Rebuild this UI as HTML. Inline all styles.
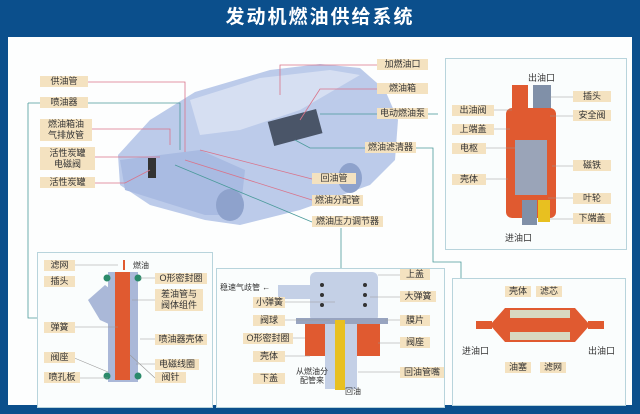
<!DOCTYPE html>
<html><head><meta charset="utf-8"><style>
*{margin:0;padding:0;box-sizing:border-box}
body{width:640px;height:414px;overflow:hidden;background:#0b4f8c;font-family:"Liberation Sans","Noto Sans CJK SC",sans-serif;position:relative}
.title{position:absolute;left:0;top:0;width:640px;height:36px;color:#fff;font-size:19px;font-weight:bold;text-align:center;line-height:36px;letter-spacing:2px}
.main{position:absolute;left:8px;top:37px;width:624px;height:368px;background:#fdfefe}
.p{position:absolute;border:1.5px solid #b8d4dc;background:#fafdfd}
.l{position:absolute;background:#f4e2c0;color:#333;font-size:9px;line-height:11px;padding:0 3px;white-space:nowrap;text-align:center}
.t{position:absolute;color:#333;font-size:8px;white-space:nowrap}
svg{position:absolute;left:0;top:0}
</style></head><body>
<div class="title">发动机燃油供给系统</div>
<div class="main"></div>
<div class="p" style="left:445px;top:58px;width:182px;height:192px"></div>
<div class="p" style="left:37px;top:252px;width:176px;height:156px"></div>
<div class="p" style="left:216px;top:268px;width:229px;height:140px"></div>
<div class="p" style="left:452px;top:278px;width:174px;height:128px"></div>
<svg width="640" height="414">
<!-- car -->
<polygon points="118,155 150,120 195,92 270,70 320,64 360,68 385,90 398,120 395,160 370,185 300,210 240,225 205,220 150,205 120,185" fill="#bccbea"/>
<polygon points="190,100 260,78 330,70 360,75 300,110 240,130 200,135" fill="#d6dff2"/>
<polygon points="120,160 200,150 245,170 240,215 205,215 125,190" fill="#a9bbe2"/>
<ellipse cx="230" cy="205" rx="14" ry="16" fill="#8ea2cc"/>
<ellipse cx="350" cy="178" rx="12" ry="15" fill="#8ea2cc"/>
<rect x="270" y="115" width="50" height="25" fill="#4a5568" transform="rotate(-15 295 127)"/>
<rect x="148" y="158" width="8" height="20" fill="#333"/>
<g fill="none" stroke-width="0.8">
<path d="M88,82 H185 V152" stroke="#d9738a"/>
<path d="M88,103 H180 V150" stroke="#4a9a9a"/>
<path d="M92,129 H170 V145" stroke="#d9738a"/>
<path d="M95,157 H160" stroke="#d9738a"/>
<path d="M95,183 H125 L150,170" stroke="#d9738a"/>
<path d="M377,65 H280 V95" stroke="#d9738a"/>
<path d="M377,89 H320 L300,120" stroke="#d9738a"/>
<path d="M377,114 H320" stroke="#4a9a9a"/>
<path d="M365,148 H310 L295,140" stroke="#4a9a9a"/>
<path d="M312,179 L200,150" stroke="#d9738a"/>
<path d="M312,200 L185,160" stroke="#d9738a"/>
<path d="M312,222 L175,165" stroke="#4a9a9a"/>
<path d="M28,103 H40 M28,103 V318 H37" stroke="#4a9a9a"/>
<path d="M428,114 H438" stroke="#4a9a9a"/>
<path d="M416,148 H433 V262 H461 V278" stroke="#4a9a9a"/>
<path d="M341,228 V268" stroke="#4a9a9a"/>
</g>
<!-- pump -->
<rect x="512" y="85" width="16" height="25" fill="#e05a30"/>
<rect x="533" y="85" width="18" height="25" fill="#8090a8"/>
<rect x="506" y="108" width="50" height="110" rx="6" fill="#e05a30"/>
<rect x="515" y="140" width="32" height="55" fill="#9aa4b8"/>
<rect x="522" y="200" width="15" height="25" fill="#8090a8"/>
<rect x="538" y="200" width="12" height="22" fill="#e8c020"/>
<g stroke="#999" stroke-width="0.6"><path d="M494,110 H512 M494,129 H510 M486,148 H515 M486,179 H508 M573,97 H550 M573,116 H550 M573,166 H552 M573,198 H548 M573,219 H550"/></g>
<!-- injector -->
<polygon points="88,300 105,285 125,300 122,330 100,320" fill="#aab8d8"/>
<rect x="108" y="272" width="30" height="110" fill="#aab8d8"/>
<rect x="115" y="272" width="15" height="108" fill="#e05a30"/>
<circle cx="107" cy="278" r="3.5" fill="#2a8a6a"/><circle cx="138" cy="278" r="3.5" fill="#2a8a6a"/>
<circle cx="107" cy="376" r="3.5" fill="#2a8a6a"/><circle cx="138" cy="376" r="3.5" fill="#2a8a6a"/>
<path d="M124,260 V270" stroke="#e05a30" stroke-width="2"/>
<g stroke="#999" stroke-width="0.6"><path d="M75,265 H118 M75,327 H118 M72,357 L108,372 M80,378 H108 M155,278 H140 M155,300 H132 M155,339 H140 M155,364 H136 M155,378 L130,355"/></g>
<!-- regulator -->
<rect x="310" y="272" width="68" height="50" rx="6" fill="#c4d0e6"/>
<rect x="278" y="285" width="34" height="14" fill="#c4d0e6"/>
<rect x="296" y="318" width="92" height="6" fill="#98a4c0"/>
<rect x="305" y="324" width="75" height="32" fill="#e05a30"/>
<rect x="325" y="324" width="32" height="65" fill="#c4d0e6"/>
<rect x="335" y="320" width="10" height="70" fill="#e8c020"/>
<g fill="#333"><circle cx="322" cy="285" r="2"/><circle cx="322" cy="295" r="2"/><circle cx="322" cy="305" r="2"/><circle cx="365" cy="285" r="2"/><circle cx="365" cy="295" r="2"/><circle cx="365" cy="305" r="2"/></g>
<g stroke="#999" stroke-width="0.6"><path d="M400,275 H378 M400,297 H370 M285,302 H335 M400,320 H385 M285,320 H330 M400,343 H378 M285,338 H305 M285,356 H310 M400,372 H358"/></g>
<!-- filter -->
<polygon points="490,325 505,308 575,308 590,325 575,342 505,342" fill="#e05a30"/>
<rect x="510" y="310" width="60" height="8" fill="#d8d8c0"/><rect x="510" y="332" width="60" height="8" fill="#d8d8c0"/>
<rect x="476" y="321" width="16" height="8" fill="#e05a30"/><rect x="588" y="321" width="16" height="8" fill="#e05a30"/>
</svg>
<div class="l" style="left:40px;top:76px;width:48px">供油管</div>
<div class="l" style="left:40px;top:97px;width:48px">喷油器</div>
<div class="l" style="left:40px;top:119px;width:52px">燃油箱油<br>气排放管</div>
<div class="l" style="left:40px;top:147px;width:55px;padding-top:1px;height:23px">活性炭罐<br>电磁阀</div>
<div class="l" style="left:40px;top:177px;width:55px">活性炭罐</div>
<div class="l" style="left:377px;top:59px;width:51px">加燃油口</div>
<div class="l" style="left:377px;top:83px;width:51px">燃油箱</div>
<div class="l" style="left:377px;top:108px;width:51px">电动燃油泵</div>
<div class="l" style="left:365px;top:142px;width:51px">燃油滤清器</div>
<div class="l" style="left:312px;top:173px;width:44px">回油管</div>
<div class="l" style="left:312px;top:195px;width:51px">燃油分配管</div>
<div class="l" style="left:312px;top:216px;width:71px">燃油压力调节器</div>
<div class="t" style="left:528px;top:71px;font-size:9px">出油口</div>
<div class="l" style="left:452px;top:105px;width:42px">出油阀</div>
<div class="l" style="left:452px;top:124px;width:42px">上端盖</div>
<div class="l" style="left:452px;top:143px;width:34px">电枢</div>
<div class="l" style="left:452px;top:174px;width:34px">壳体</div>
<div class="l" style="left:573px;top:91px;width:38px">插头</div>
<div class="l" style="left:573px;top:110px;width:38px">安全阀</div>
<div class="l" style="left:573px;top:160px;width:38px">磁铁</div>
<div class="l" style="left:573px;top:193px;width:38px">叶轮</div>
<div class="l" style="left:573px;top:213px;width:38px">下端盖</div>
<div class="t" style="left:505px;top:231px;font-size:9px">进油口</div>
<div class="l" style="left:44px;top:260px;width:31px">滤网</div>
<div class="l" style="left:44px;top:276px;width:31px">插头</div>
<div class="l" style="left:44px;top:322px;width:31px">弹簧</div>
<div class="l" style="left:44px;top:352px;width:31px">阀座</div>
<div class="l" style="left:44px;top:372px;width:36px">喷孔板</div>
<div class="t" style="left:133px;top:260px">燃油</div>
<div class="l" style="left:155px;top:273px;width:52px">O形密封圈</div>
<div class="l" style="left:155px;top:289px;width:48px">差油管与<br>阀体组件</div>
<div class="l" style="left:155px;top:334px;width:52px">喷油器壳体</div>
<div class="l" style="left:155px;top:359px;width:44px">电磁线圈</div>
<div class="l" style="left:155px;top:372px;width:31px">阀针</div>
<div class="t" style="left:220px;top:282px">稳速气歧管 ←</div>
<div class="l" style="left:400px;top:269px;width:30px">上盖</div>
<div class="l" style="left:400px;top:291px;width:36px">大弹簧</div>
<div class="l" style="left:253px;top:297px;width:32px">小弹簧</div>
<div class="l" style="left:400px;top:315px;width:30px">膜片</div>
<div class="l" style="left:253px;top:315px;width:32px">阀球</div>
<div class="l" style="left:400px;top:337px;width:30px">阀座</div>
<div class="l" style="left:243px;top:333px;width:50px">O形密封圈</div>
<div class="l" style="left:253px;top:351px;width:32px">壳体</div>
<div class="l" style="left:253px;top:373px;width:32px">下盖</div>
<div class="t" style="left:296px;top:367px;text-align:center;line-height:9px">从燃油分<br>配管来</div>
<div class="t" style="left:345px;top:386px">回油</div>
<div class="l" style="left:400px;top:367px;width:44px">回油管嘴</div>
<div class="l" style="left:505px;top:286px;width:26px">壳体</div>
<div class="l" style="left:536px;top:286px;width:26px">滤芯</div>
<div class="t" style="left:462px;top:344px;font-size:9px">进油口</div>
<div class="t" style="left:588px;top:344px;font-size:9px">出油口</div>
<div class="l" style="left:505px;top:362px;width:26px">油塞</div>
<div class="l" style="left:540px;top:362px;width:26px">滤网</div>
</body></html>
